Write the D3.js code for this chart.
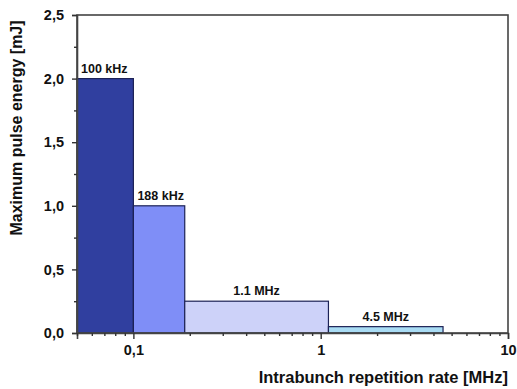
<!DOCTYPE html>
<html>
<head>
<meta charset="utf-8">
<script src="https://cdn.jsdelivr.net/npm/d3@7"></script>
<style>
  body { margin: 0; background: #fff; }
  text { font-family: "Liberation Sans", Arial, sans-serif; font-weight: bold; fill: #111; }
</style>
</head>
<body>
<svg id="chart" width="517" height="389"></svg>
<script>
// bars: [start, end] in MHz, height in mJ
const labels = ["100 kHz", "188 kHz", "1.1 MHz", "4.5 MHz"];
const starts = [0.05, 0.1, 0.188, 1.1];
const ends = [0.1, 0.188, 1.1, 4.5];
const energies = [2.0, 1.0, 0.25, 0.05];
const colors = ["#303f9f", "#7f8ef7", "#cdd2f9", "#a9dcf4"];
const yTicks = [0, 0.5, 1.0, 1.5, 2.0, 2.5];
const xTicks = [0.1, 1, 10];

const margin = { left: 77, right: 9, top: 15, bottom: 56 };
const width = 517, height = 389;

const svg = d3.select("#chart");

let x = d3.scaleLog().domain([0.05, 10]).range([margin.left, width - margin.right]);
let y = d3.scaleLinear().domain([0, 2.5]).range([height - margin.bottom, margin.top]);

const fmt = d => d3.format(".1f")(d).replace(".", ",");

// bars
svg.append("g")
  .selectAll("rect")
  .data(energies)
  .enter()
  .append("rect")
  .attr("x", (d, i) => x(starts[i]))
  .attr("width", (d, i) => x(ends[i]) - x(starts[i]))
  .attr("y", d => y(d))
  .attr("height", d => y(0) - y(d))
  .style("fill", (d, i) => colors[i])
  .style("stroke", "#1c2256")
  .style("stroke-width", 1.2);

// bar labels
const labelPos = ["start", "start", "middle", "middle"];
svg.append("g")
  .selectAll("text")
  .data(energies)
  .enter()
  .append("text")
  .attr("x", (d, i) => labelPos[i] == "start" ? x(starts[i]) + 4 : (x(starts[i]) + x(ends[i])) / 2)
  .attr("y", d => y(d) - 6)
  .attr("text-anchor", (d, i) => labelPos[i])
  .style("font-size", "12.5px")
  .text((d, i) => labels[i]);

// frame
svg.append("rect")
  .attr("x", margin.left)
  .attr("y", margin.top)
  .attr("width", width - margin.left - margin.right)
  .attr("height", height - margin.top - margin.bottom)
  .style("fill", "none")
  .style("stroke", "#444")
  .style("stroke-width", 1.6);

// y axis
svg.append("g")
  .attr("transform", `translate(${margin.left},0)`)
  .call(d3.axisLeft(y).tickValues(yTicks).tickFormat(fmt).tickSize(5).tickPadding(8));
svg.append("g")
  .attr("transform", `translate(${margin.left},0)`)
  .call(d3.axisLeft(y).tickValues(d3.range(0.25, 2.5, 0.5)).tickFormat("").tickSize(3))
  .call(g => g.select(".domain").remove());

// x axis
svg.append("g")
  .attr("transform", `translate(0,${height - margin.bottom})`)
  .call(d3.axisBottom(x).tickValues(xTicks).tickFormat(d => d < 1 ? fmt(d) : d).tickSize(6).tickPadding(6));
const minor = [];
[0.01, 0.1, 1].forEach(b => d3.range(2, 10).forEach(k => {
  const v = b * k;
  if (v >= 0.05 && v < 10) minor.push(v);
}));
svg.append("g")
  .attr("transform", `translate(0,${height - margin.bottom})`)
  .call(d3.axisBottom(x).tickValues(minor).tickFormat("").tickSize(3))
  .call(g => g.select(".domain").remove());

svg.selectAll(".tick line").style("stroke", "#333").style("stroke-width", 1.4);
svg.selectAll(".domain").style("stroke", "#444").style("stroke-width", 1.6);
svg.selectAll(".tick text").style("font-size", "14.5px").style("font-family", "Liberation Sans, Arial, sans-serif").style("font-weight", "bold").attr("fill", "#111");

// axis titles
svg.append("text")
  .attr("x", width - margin.right)
  .attr("y", 383)
  .attr("text-anchor", "end")
  .style("font-size", "16.5px")
  .text("Intrabunch repetition rate [MHz]");

svg.append("text")
  .attr("transform", "translate(22,128) rotate(-90)")
  .attr("text-anchor", "middle")
  .style("font-size", "16px")
  .text("Maximum pulse energy [mJ]");
</script>
</body>
</html>
